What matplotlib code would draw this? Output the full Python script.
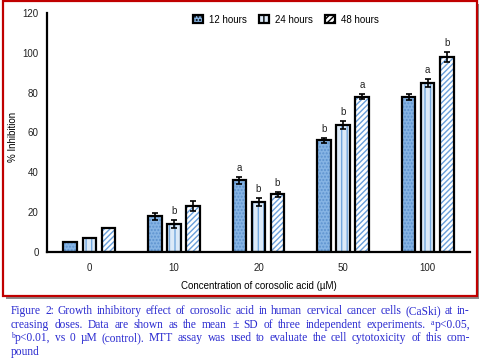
import matplotlib
matplotlib.use('Agg')
import matplotlib.pyplot as plt
import matplotlib.patches as mpatches
import numpy as np

# data
concs = ['0', '10', '20', '50', '100']
series = ['12 hours', '24 hours', '48 hours']
h12 = [5, 18, 36, 56, 78]
h24 = [7, 14, 25, 64, 85]
h48 = [12, 23, 29, 78, 98]
err12 = [0, 1.8, 1.8, 1.2, 1.5]
err24 = [0, 2.0, 2.0, 2.0, 2.0]
err48 = [0, 2.5, 1.2, 1.2, 2.5]
sig12 = ['', '', 'a', 'b', '']
sig24 = ['', 'b', 'b', 'b', 'a']
sig48 = ['', '', 'b', 'a', 'b']

# ^x marks a superscript letter
caption = [
    "Figure 2: Growth inhibitory effect of corosolic acid in human cervical cancer cells (CaSki) at in-",
    "creasing doses. Data are shown as the mean \u00b1 SD of three independent experiments. ^ap<0.05,",
    "^bp<0.01, vs 0 \u00b5M (control). MTT assay was used to evaluate the cell cytotoxicity of this com-",
    "pound",
]

plt.rcParams['font.family'] = ['Liberation Sans', 'DejaVu Sans']
plt.rcParams['hatch.linewidth'] = 1.0

fig = plt.figure(figsize=(4.8, 3.62), dpi=100)
W, H = 480.0, 362.0

# red frame with grey shadow
fig.add_artist(mpatches.Rectangle((6 / W, 1 - 299 / H), 473 / W, 295 / H, transform=fig.transFigure,
                                  facecolor='#8c8c8c', edgecolor='none', zorder=-3))
fig.add_artist(mpatches.Rectangle((3 / W, 1 - 296 / H), 474 / W, 295 / H, transform=fig.transFigure,
                                  facecolor='white', edgecolor='#c00000', lw=1.6, zorder=-2))

ax = fig.add_axes([47 / W, 1 - 252 / H, 423 / W, 239 / H])
ax.patch.set_alpha(0)

x = np.arange(len(concs))
off = 0.225
bw = 0.16
styles = [('#86b4e4', '#5d93cf', '.....'),
          ('#dceaf8', '#74a8de', '|||'),
          ('white', '#6a9fda', '//////')]
vals = [h12, h24, h48]
errs = [err12, err24, err48]
sigs = [sig12, sig24, sig48]

handles = []
for i in range(3):
    fc, hc, hatch = styles[i]
    xs = x + (i - 1) * off
    ax.bar(xs, vals[i], bw, color=fc, edgecolor=hc, hatch=hatch, lw=0, zorder=2)
    ax.bar(xs, vals[i], bw, fill=False, edgecolor='black', lw=1.6, zorder=3)
    e = np.array(errs[i])
    m = e > 0
    ax.errorbar(xs[m], np.array(vals[i])[m], yerr=e[m], fmt='none', ecolor='black',
                elinewidth=1.2, capsize=2.5, capthick=1.2, zorder=4)
    for xx, v, ee, s in zip(xs, vals[i], errs[i], sigs[i]):
        if s:
            ax.text(xx, v + ee + 2, s, ha='center', va='bottom', fontsize=7, color='#222222')
    handles.append(mpatches.Patch(facecolor=fc, edgecolor='black', hatch=hatch, lw=1.6))

ax.set_xlim(-0.5, 4.5)
ax.set_ylim(0, 120)
ax.set_yticks([0, 20, 40, 60, 80, 100, 120])
ax.set_xticks(x)
ax.set_xticklabels(concs)
ax.tick_params(length=0, labelsize=7, colors='#222222')
ax.tick_params(axis='y', pad=6)
ax.tick_params(axis='x', pad=8)
for s in ['top', 'right']:
    ax.spines[s].set_visible(False)
for s in ['left', 'bottom']:
    ax.spines[s].set_linewidth(1.6)
ax.set_ylabel('% Inhibition', fontsize=7)
ax.yaxis.set_label_coords(-0.068, 0.48)
ax.set_xlabel('Concentration of corosolic acid (\u00b5M)', fontsize=7, labelpad=6)

leg = ax.legend(handles, series, ncol=3, loc='upper center', bbox_to_anchor=(0.565, 1.03),
                frameon=False, fontsize=7, handlelength=1.0, handleheight=0.8,
                columnspacing=1.3, handletextpad=0.6)

# justified caption, one word at a time
fig.canvas.draw()
r = fig.canvas.get_renderer()
left, right = 11.0, 470.0
cap_kw = dict(color='#2a2ad0', va='baseline', family='Liberation Serif')
for li, line in enumerate(caption):
    yb = 1 - (314 + li * 13.6) / H
    words = line.split(' ')
    groups = []
    for w in words:
        parts = []
        if w.startswith('^'):
            parts.append(fig.text(0, yb + 3 / H, w[1], fontsize=5.5, **cap_kw))
            w = w[2:]
        parts.append(fig.text(0, yb, w, fontsize=8.3, **cap_kw))
        pw = [p.get_window_extent(r).width for p in parts]
        groups.append((parts, pw))
    total = sum(sum(pw) for _, pw in groups)
    if li == len(caption) - 1:
        gap = 3.0
    else:
        gap = (right - left - total) / (len(words) - 1)
    cur = left
    for parts, pw in groups:
        for p, wd in zip(parts, pw):
            p.set_x(cur / W)
            cur += wd
        cur += gap

fig.savefig('out.png', dpi=100)
